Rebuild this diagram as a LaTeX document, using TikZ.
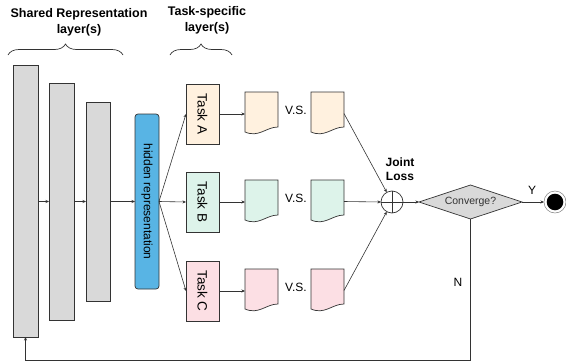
\documentclass[tikz,border=0pt]{standalone}
\usepackage{fontspec}
\setmainfont{Liberation Sans}
\usetikzlibrary{shapes.geometric,arrows.meta,calc,decorations.pathreplacing}

\definecolor{layergray}{HTML}{D9D9D9}
\definecolor{hiddenblue}{HTML}{58B4E4}
\definecolor{fillA}{HTML}{FFF1DF}
\definecolor{fillB}{HTML}{DDF3EA}
\definecolor{fillC}{HTML}{FCDFE4}
\definecolor{edge}{HTML}{333333}

\tikzset{
  x=1pt, y=-1pt,
  every node/.style={inner sep=0pt, outer sep=0pt},
  layer/.style={draw=edge, line width=0.7pt, fill=layergray, minimum width=25pt},
  hidden/.style={draw=edge, line width=0.7pt, fill=hiddenblue, rounded corners=3pt,
    minimum width=24pt, minimum height=175pt},
  taskbox/.style={draw=edge, line width=0.7pt, minimum width=33pt, minimum height=60pt,
    font=\fontsize{13.5}{15}\selectfont},
  docbox/.style={minimum width=33pt, minimum height=43pt},
  conn/.style={draw=edge, line width=0.6pt, -{Stealth[length=3.5pt,width=3pt]}},
  plain/.style={draw=edge, line width=0.6pt},
  lbl/.style={font=\fontsize{12}{14}\selectfont},
  head/.style={font=\bfseries\fontsize{12.5}{16}\selectfont, align=center},
  brc/.style={draw=edge, line width=0.7pt, decorate,
    decoration={brace, amplitude=11pt, aspect=0.5}},
}

% document shape with a wavy lower edge, drawn over a named node
\newcommand{\docshape}[2]{%
  \draw[draw=edge, line width=0.7pt, fill=#2]
    (#1.north west) -- (#1.north east) -- ($(#1.south east)+(0,-8)$)
    .. controls ($(#1.south east)+(-12,-8)$) and ($(#1.south west)+(14,3)$)
    .. ($(#1.south west)+(0,-3)$) -- cycle;}

\begin{document}
\begin{tikzpicture}
\useasboundingbox (0,0) rectangle (566,362);

% headings and braces
\node[head] (hshared) at (79,22) {Shared Representation\\layer(s)};
\node[head] (htask) at (207,20) {Task-specific\\layer(s)};
\coordinate (bs1) at (8,55);  \coordinate (bs2) at (123,55);
\coordinate (bt1) at (170,55); \coordinate (bt2) at (232,55);
\draw[brc] (bs1) -- (bs2);
\draw[brc] (bt1) -- (bt2);

% shared layers
\node[layer, minimum height=272pt] (L1) at (25.5,201) {};
\node[layer, minimum height=237pt] (L2) at (61.5,201.5) {};
\node[layer, minimum width=24pt, minimum height=199pt] (L3) at (98,201.5) {};
\node[hidden] (H) at (147,201.5) {\rotatebox{-90}{\fontsize{12}{14}\selectfont hidden representation}};

\draw[conn] (L1.east |- H) -- (L2.west |- H);
\draw[conn] (L2.east |- H) -- (L3.west |- H);
\draw[conn] (L3.east |- H) -- (H.west);

% task-specific layers
\node[taskbox, fill=fillA] (TA) at (202.5,114) {\rotatebox{-90}{Task A}};
\node[taskbox, fill=fillB] (TB) at (202.5,202) {\rotatebox{-90}{Task B}};
\node[taskbox, fill=fillC] (TC) at (202.5,291) {\rotatebox{-90}{Task C}};

\draw[conn] (H.east) -- (TA.west);
\draw[conn] (H.east) -- (TB.west);
\draw[conn] (H.east) -- (TC.west);

% outputs and targets
\node[docbox] (A1) at (261.5,113.5) {};
\node[docbox] (A2) at (327.5,113.5) {};
\node[docbox] (B1) at (261.5,201.5) {};
\node[docbox] (B2) at (327.5,201.5) {};
\node[docbox] (C1) at (261.5,290.5) {};
\node[docbox] (C2) at (327.5,290.5) {};
\docshape{A1}{fillA}\docshape{A2}{fillA}
\docshape{B1}{fillB}\docshape{B2}{fillB}
\docshape{C1}{fillC}\docshape{C2}{fillC}
\node[lbl] (vsA) at (296,110) {V.S.};
\node[lbl] (vsB) at (296,198) {V.S.};
\node[lbl] (vsC) at (296,287) {V.S.};

\draw[conn] (TA.east) -- (A1.west |- TA);
\draw[conn] (TB.east) -- (B1.west |- TB);
\draw[conn] (TC.east) -- (C1.west |- TC);

% joint loss
\node[circle, draw=edge, line width=0.7pt, minimum size=22pt,
  path picture={\draw[edge, line width=0.6pt]
    (path picture bounding box.north) -- (path picture bounding box.south)
    (path picture bounding box.west) -- (path picture bounding box.east);}]
  (S) at (392,202) {};
\node[head, font=\bfseries\fontsize{12}{14}\selectfont] (jl) at (400,169) {Joint\\Loss};

\draw[conn] (A2.east) -- (S);
\draw[conn] (B2.east) -- (S.west);
\draw[conn] (C2.east) -- (S);

% convergence test and end state
\node[diamond, aspect=3, draw=edge, line width=0.7pt, fill=layergray,
  minimum width=103pt, minimum height=34pt, text=edge,
  font=\fontsize{10.5}{12}\selectfont] (CV) at (470.5,202) {Converge?};
\node[circle, draw=gray, line width=0.5pt, minimum size=22pt,
  path picture={\fill[black] (path picture bounding box.center) circle (8.3pt);}]
  (E) at (555,202) {};

\draw[conn] (S.east) -- (CV.west);
\draw[conn] (CV.east) -- (E.west);
\node[lbl] (ylbl) at (532,190) {Y};

\draw[conn] (CV.south) -- ++(0,141.5) -| (L1.south);
\node[lbl] (nlbl) at (458,282) {N};
\end{tikzpicture}
\end{document}
